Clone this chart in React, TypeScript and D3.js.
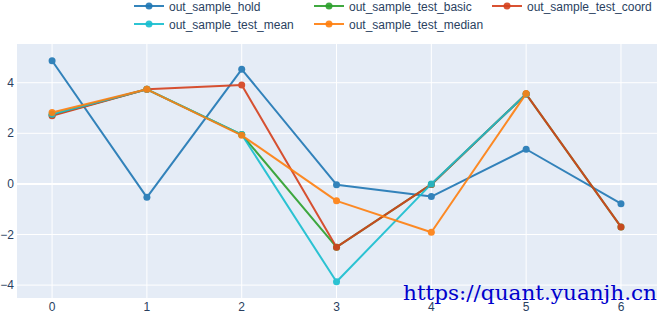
import React from "react";
import * as d3 from "d3";

const W = 668;
const H = 317;

const xTicks = [0, 1, 2, 3, 4, 5, 6];
const yTicks = [-4, -2, 0, 2, 4];

const holdValues = [4.87, -0.53, 4.53, -0.03, -0.5, 1.37, -0.78];
const basicValues = [2.72, 3.74, 1.95, -2.5, -0.02, 3.55, -1.7];
const coordValues = [2.69, 3.74, 3.91, -2.5, -0.02, 3.55, -1.7];
const meanValues = [2.75, 3.74, 1.95, -3.87, 0.0, 3.55];
const medianValues = [2.82, 3.74, 1.92, -0.67, -1.91, 3.57];

const seriesNames = [
  "out_sample_hold",
  "out_sample_test_basic",
  "out_sample_test_coord",
  "out_sample_test_mean",
  "out_sample_test_median",
];
const seriesColors = ["#1f77b4", "#2ca02c", "#d5401c", "#17becf", "#ff7f0e"];
const seriesValues = [holdValues, basicValues, coordValues, meanValues, medianValues];

const legendPos = [
  [149, 6],
  [329, 6],
  [507, 6],
  [149, 24],
  [329, 24],
];

const font = "'Liberation Sans', Arial, sans-serif";

export default function App() {
  const left = 17,
    right = 657,
    top = 44,
    bottom = 298;
  const x = d3.scaleLinear().domain([-0.37, 6.38]).range([left, right]);
  const y = d3.scaleLinear().domain([-4.51, 5.53]).range([bottom, top]);
  const line = d3
    .line<number>()
    .x((_, i) => x(i))
    .y((d) => y(d));

  return (
    <svg width={W} height={H} style={{ position: "absolute", left: 0, top: 0, background: "#fff" }}>
      <rect x={left} y={top} width={right - left} height={bottom - top} fill="#e5ecf6" />
      {xTicks.map((t) => (
        <line key={"gx" + t} x1={x(t)} x2={x(t)} y1={top} y2={bottom} stroke="#fff" strokeWidth={1} />
      ))}
      {yTicks.map((t) => (
        <line
          key={"gy" + t}
          x1={left}
          x2={right}
          y1={y(t)}
          y2={y(t)}
          stroke="#fff"
          strokeWidth={t === 0 ? 2 : 1}
        />
      ))}
      {xTicks.map((t) => (
        <text key={"tx" + t} x={x(t)} y={311} textAnchor="middle" fontSize={12} fill="#2a3f5f" fontFamily={font}>
          {String(t)}
        </text>
      ))}
      {yTicks.map((t) => (
        <text key={"ty" + t} x={14} y={y(t) + 4} textAnchor="end" fontSize={12} fill="#2a3f5f" fontFamily={font}>
          {t < 0 ? "\u2212" + Math.abs(t) : String(t)}
        </text>
      ))}
      {seriesValues.map((vals, si) => (
        <g key={"s" + si} opacity={0.9}>
          <path d={line(vals) || ""} fill="none" stroke={seriesColors[si]} strokeWidth={2} strokeLinejoin="round" />
          {vals.map((v, i) => (
            <circle key={i} cx={x(i)} cy={y(v)} r={3.5} fill={seriesColors[si]} />
          ))}
        </g>
      ))}
      {seriesNames.map((n, si) => {
        const [mx, my] = legendPos[si];
        return (
          <g key={"l" + si}>
            <line x1={mx - 15} x2={mx + 15} y1={my} y2={my} stroke={seriesColors[si]} strokeWidth={2} opacity={0.9} />
            <circle cx={mx} cy={my} r={3.5} fill={seriesColors[si]} opacity={0.9} />
            <text x={mx + 20} y={my + 4.5} fontSize={12} fill="#2a3f5f" fontFamily={font}>
              {n}
            </text>
          </g>
        );
      })}
      <text
        x={403}
        y={300}
        fontSize={21}
        fill="#0000cc"
        fontFamily="'DejaVu Serif', serif"
        textLength={254}
        lengthAdjust="spacingAndGlyphs"
      >
        https://quant.yuanjh.cn
      </text>
    </svg>
  );
}
